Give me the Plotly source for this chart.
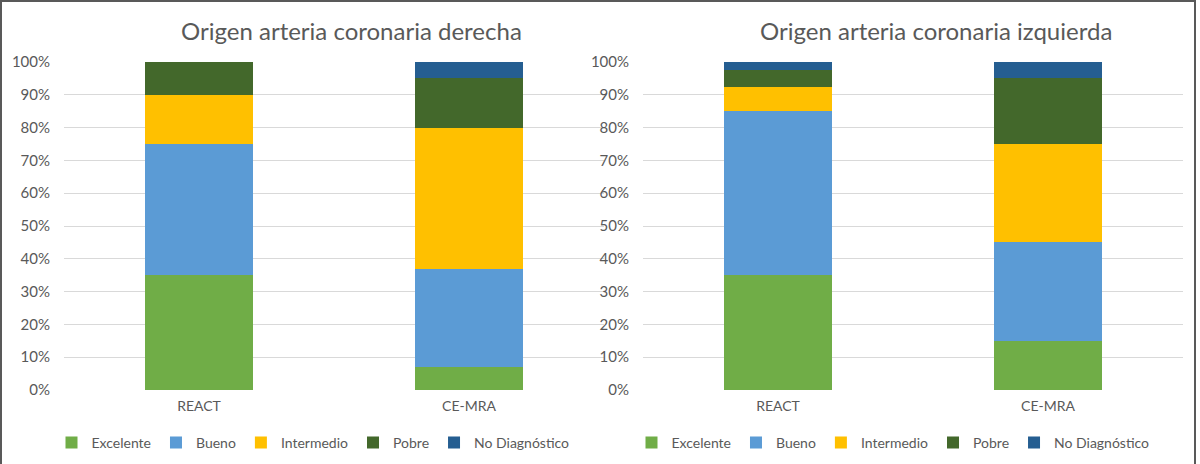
import plotly.graph_objects as go

categories = ["REACT", "CE-MRA"]
series_names = ["Excelente", "Bueno", "Intermedio", "Pobre", "No Diagnóstico"]
colors = ["#70AD47", "#5B9BD5", "#FFC000", "#43682B", "#255E91"]

# Origen arteria coronaria derecha
derecha = {
    "Excelente": [35, 7],
    "Bueno": [40, 30],
    "Intermedio": [15, 43],
    "Pobre": [10, 15],
    "No Diagnóstico": [0, 5],
}
# Origen arteria coronaria izquierda
izquierda = {
    "Excelente": [35, 15],
    "Bueno": [50, 30],
    "Intermedio": [7.5, 30],
    "Pobre": [5, 20],
    "No Diagnóstico": [2.5, 5],
}
titles = ["Origen arteria coronaria derecha", "Origen arteria coronaria izquierda"]
y_ticks = list(range(0, 101, 10))
y_tick_labels = [f"{v}%" for v in y_ticks]

FONT = "Lato, 'Open Sans', sans-serif"
TXT = "#595959"
W, H = 1200, 464

fig = go.Figure()
for name, col in zip(series_names, colors):
    fig.add_trace(go.Bar(x=categories, y=derecha[name], name=name, marker_color=col,
                         marker_line_width=0, xaxis="x", yaxis="y", legend="legend"))
for name, col in zip(series_names, colors):
    fig.add_trace(go.Bar(x=categories, y=izquierda[name], name=name, marker_color=col,
                         marker_line_width=0, xaxis="x2", yaxis="y2", legend="legend2"))

def px_x(p):
    return p / W

def px_y(p):
    return (H - p) / H

xdom1 = [px_x(64), px_x(604)]
xdom2 = [px_x(643), px_x(1183)]
ydom = [px_y(390), px_y(62)]

axis_x = dict(type="category", range=[-0.5, 1.5], showgrid=False, showline=False,
              zeroline=False, ticks="", tickfont=dict(family=FONT, size=14, color=TXT),
              ticklabelstandoff=6, automargin=False)
axis_y = dict(range=[0, 100], tickvals=y_ticks, ticktext=y_tick_labels, showgrid=True,
              gridcolor="#D9D9D9", gridwidth=1, zeroline=False, showline=False, ticks="",
              tickfont=dict(family=FONT, size=15, color=TXT), ticklabelstandoff=13,
              domain=ydom, automargin=False)

leg = dict(orientation="h", xanchor="center", yanchor="middle", yref="container",
           xref="container", y=px_y(443),
           font=dict(family=FONT, size=14, color=TXT), bgcolor="rgba(0,0,0,0)",
           traceorder="normal", itemwidth=30)

fig.update_layout(
    width=W, height=H, barmode="stack", bargap=0.6,
    margin=dict(l=0, r=0, t=0, b=0, autoexpand=False),
    paper_bgcolor="white", plot_bgcolor="white",
    font=dict(family=FONT, color=TXT),
    xaxis=dict(axis_x, domain=xdom1, anchor="y"),
    yaxis=dict(axis_y, anchor="x"),
    xaxis2=dict(axis_x, domain=xdom2, anchor="y2"),
    yaxis2=dict(axis_y, anchor="x2"),
    legend=dict(leg, x=px_x(313)),
    legend2=dict(leg, x=px_x(893)),
    annotations=[
        dict(text=titles[0], x=px_x(351), y=px_y(31), xref="paper", yref="paper",
             showarrow=False, xanchor="center", yanchor="middle",
             font=dict(family=FONT, size=24, color=TXT)),
        dict(text=titles[1], x=px_x(936), y=px_y(31), xref="paper", yref="paper",
             showarrow=False, xanchor="center", yanchor="middle",
             font=dict(family=FONT, size=24, color=TXT)),
    ],
    shapes=[
        dict(type="rect", xref="paper", yref="paper", x0=px_x(1), x1=px_x(1195),
             y0=-0.05, y1=px_y(1), line=dict(color="#595959", width=2)),
    ],
)

fig.write_html("out.html")
